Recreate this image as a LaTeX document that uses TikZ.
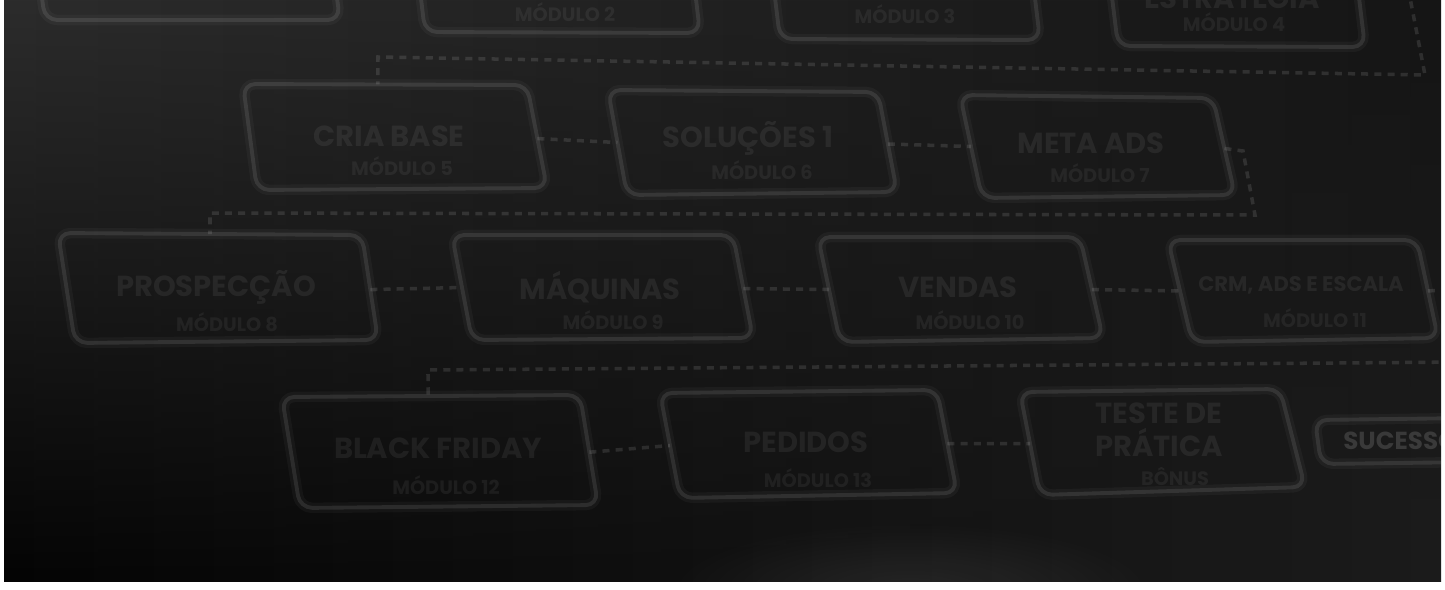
\documentclass[tikz,border=0pt]{standalone}
\usepackage{fontspec}
\setmainfont{Poppins}
\usetikzlibrary{calc,fadings}
\tikzfading[name=glowfade, inner color=transparent!0, outer color=transparent!100]
\definecolor{bgtl}{HTML}{2C2C2C}
\definecolor{bgtr}{HTML}{151515}
\definecolor{bgbl}{HTML}{040404}
\definecolor{bgbr}{HTML}{1C1C1C}
\newcommand\pbox[6][]{%
  \coordinate (#2-tl) at (#3);
  \coordinate (#2-tr) at (#4);
  \coordinate (#2-br) at (#5);
  \coordinate (#2-bl) at (#6);
  \draw[boxhalo,#1] (#2-tl) -- (#2-tr) -- (#2-br) -- (#2-bl) -- cycle;
  \draw[boxline,#1] (#2-tl) -- (#2-tr) -- (#2-br) -- (#2-bl) -- cycle;
  \coordinate (#2-e) at ($(#2-tr)!0.52!(#2-br)$);
  \coordinate (#2-w) at ($(#2-tl)!0.5!(#2-bl)$);
}
\begin{document}
\begin{tikzpicture}[x=0.02cm,y=-0.02cm,
  boxline/.style={draw=white, draw opacity=0.095, line width=2.2pt, rounded corners=7pt, line join=round},
  boxhalo/.style={draw=white, draw opacity=0.035, line width=6pt, rounded corners=7pt, line join=round},
  link/.style={draw=white, draw opacity=0.11, line width=2pt, dash pattern=on 4pt off 3.5pt},
  ttl/.style={text=white, text opacity=0.065, font=\bfseries\fontsize{16.5}{19}\selectfont, align=center, inner sep=0pt},
  sub/.style={text=white, text opacity=0.06, font=\bfseries\fontsize{11}{13}\selectfont, inner sep=0pt},
  goal/.style={text=white, text opacity=0.14, font=\bfseries\fontsize{14}{17}\selectfont, inner sep=0pt, anchor=west}]
\useasboundingbox (0,0) rectangle (1445,589);
\fill[white] (0,0) rectangle (1445,589);
\begin{scope}
\clip (4,0) rectangle (1441,581);
\shade[left color=bgtl, right color=bgtr] (4,0) rectangle (1441,581);
\shade[left color=bgbl, right color=bgbr, path fading=north] (4,0) rectangle (1441,581);
\fill[white, opacity=0.08, path fading=glowfade] (910,590) ellipse [x radius=5cm, y radius=1.4cm];

% row 1 (cut off at top)
\pbox{Ra}{34,-60}{329,-60}{340,20}{45,20}
\pbox{Rb}{414,-60}{689,-60}{700,33}{425,32}
\pbox{Rc}{768,-60}{1028,-60}{1040,40}{780,39}
\pbox{Rd}{1105,-60}{1352,-60}{1365,47}{1118,46}
\node[sub] (tRb) at (565,12) {MÓDULO 2};
\node[sub] (tRc) at (905,14) {MÓDULO 3};
\node[ttl] (hRd) at (1232,-6) {ESTRATÉGIA};
\node[sub] (tRd) at (1234,22) {MÓDULO 4};

% row 2
\pbox{A}{243,84}{527,85}{547,188}{257,190}
\pbox{B}{608,90}{878,92}{897,192}{627,195}
\pbox{C}{960,95}{1213,98}{1235,195}{982,198}
\node[ttl] (hA) at (389,136) {CRIA BASE};
\node[sub] (tA) at (402,166) {MÓDULO 5};
\node[ttl] (hB) at (748,138) {SOLUÇÕES 1};
\node[sub] (tB) at (762,170) {MÓDULO 6};
\node[ttl] (hC) at (1091,143) {META ADS};
\node[sub] (tC) at (1100,173) {MÓDULO 7};

% row 3
\pbox{D}{58,233}{362,235}{378,340}{75,343}
\pbox{E}{452,235}{733,235}{753,338}{472,340}
\pbox{F}{818,237}{1080,237}{1103,338}{840,342}
\pbox{G}{1168,240}{1417,240}{1438,338}{1192,342}
\node[ttl] (hD) at (216,287) {PROSPECÇÃO};
\node[sub] (tD) at (227,322) {MÓDULO 8};
\node[ttl] (hE) at (600,287) {MÁQUINAS};
\node[sub] (tE) at (613,320) {MÓDULO 9};
\node[ttl] (hF) at (958,287) {VENDAS};
\node[sub] (tF) at (970,320) {MÓDULO 10};
\node[ttl, font=\bfseries\fontsize{12}{14}\selectfont] (hG) at (1301,285) {CRM, ADS E ESCALA};
\node[sub] (tG) at (1315,318) {MÓDULO 11};

% row 4
\pbox{H}{282,397}{580,395}{598,505}{300,508}
\pbox{I}{660,393}{937,390}{957,493}{680,498}
\pbox{J}{1020,392}{1280,389}{1305,487}{1040,495}
\pbox{K}{1315,420}{1470,418}{1475,462}{1321,464}
\node[ttl] (hH) at (438,448) {BLACK FRIDAY};
\node[sub] (tH) at (446,485) {MÓDULO 12};
\node[ttl] (hI) at (806,442) {PEDIDOS};
\node[sub] (tI) at (818,478) {MÓDULO 13};
\node[ttl] (hJ) at (1159,430) {TESTE DE\\PRÁTICA};
\node[sub] (tJ) at (1175,476) {BÔNUS};
\node[goal] (hK) at (1343,441) {SUCESSO};

% connectors
\coordinate (Rd-e) at ($(Rd-tr)!0.3!(Rd-br)$);
\coordinate (r1) at (1405,-28);
\coordinate (r2) at (1425,75);
\coordinate (r3) at (378,57);
\coordinate (A-n) at ($(A-tl)!0.475!(A-tr)$);
\draw[link] (Rd-e) -- (r1) -- (r2) -- (r3) -- (A-n);
\draw[link] (A-e) -- (B-w);
\draw[link] (B-e) -- (C-w);
\coordinate (c2) at (1243,151);
\coordinate (c3) at (1255,215);
\coordinate (c4) at (210,213);
\coordinate (D-n) at ($(D-tl)!0.5!(D-tr)$);
\draw[link] (C-e) -- (c2) -- (c3) -- (c4) -- (D-n);
\draw[link] (D-e) -- (E-w);
\draw[link] (E-e) -- (F-w);
\draw[link] (F-e) -- (G-w);
\coordinate (g2) at (1460,289);
\coordinate (g3) at (1465,362);
\coordinate (g4) at (428,370);
\coordinate (H-n) at ($(H-tl)!0.49!(H-tr)$);
\draw[link] (G-e) -- (g2) -- (g3) -- (g4) -- (H-n);
\draw[link] (H-e) -- (I-w);
\draw[link] (I-e) -- (J-w);
\end{scope}
\end{tikzpicture}
\end{document}
